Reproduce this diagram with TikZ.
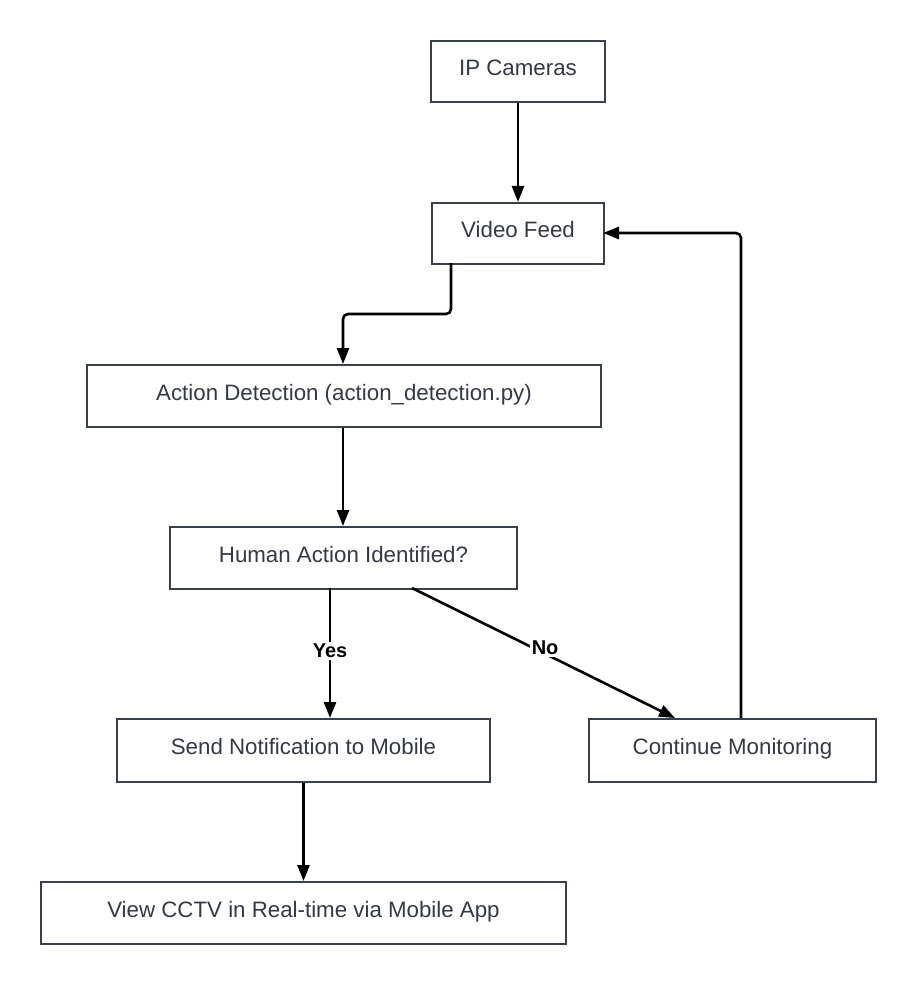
\documentclass[tikz,border=0pt]{standalone}
\usepackage{fontspec}
\setmainfont{Liberation Sans}
\usetikzlibrary{arrows.meta}
\definecolor{boxline}{HTML}{3A4049}
\definecolor{boxtext}{HTML}{333A45}
\tikzset{
  flowbox/.style={draw=boxline, line width=2pt, fill=white, text=boxtext,
    font=\fontsize{22.3}{24}\selectfont, inner sep=0pt, text height=16pt, text depth=8pt,
    anchor=north west},
  conn/.style={draw=black, line width=2.6pt, rounded corners=5pt,
    -{Triangle[length=16pt,width=12pt]}},
  choice/.style={font=\bfseries\fontsize{20}{22}\selectfont, fill=white, inner sep=2pt, text=black}
}
\begin{document}
\begin{tikzpicture}[x=1pt,y=-1pt]
\useasboundingbox[fill=white] (0,0) rectangle (914,984);
\node[flowbox, minimum width=174pt, minimum height=61pt] (ip) at (430,40) {IP Cameras};
\node[flowbox, minimum width=172pt, minimum height=61pt] (vf) at (431,202) {Video Feed};
\node[flowbox, minimum width=514pt, minimum height=62pt] (ad) at (86,364) {Action Detection (action\_detection.py)};
\node[flowbox, minimum width=347pt, minimum height=62pt] (ha) at (169,526) {Human Action Identified?};
\node[flowbox, minimum width=373pt, minimum height=63pt] (sn) at (116,718) {Send Notification to Mobile};
\node[flowbox, minimum width=287pt, minimum height=63pt] (cm) at (588,718) {Continue Monitoring};
\node[flowbox, minimum width=525pt, minimum height=62pt] (vc) at (40,881) {View CCTV in Real-time via Mobile App};

\coordinate (vfo) at (451,263);
\coordinate (adi) at (343,364);
\coordinate (hao) at (330,588);
\coordinate (sni) at (330,718);
\coordinate (hano) at (412,588);
\coordinate (cmi) at (675,718);
\coordinate (cmo) at (741,718);
\coordinate (vfi) at (603,233);

\draw[conn] (ip.south) -- (vf.north);
\draw[conn] (vfo) |- (397,314) -| (adi);
\draw[conn] (ad.south -| adi) -- (ha.north -| adi);
\draw[conn] (hao) -- node[choice, pos=0.485] {Yes} (sni);
\draw[conn] (hano) -- node[choice, pos=0.506, yshift=6pt] {No} (cmi);
\draw[conn] (cmo) |- (vfi);
\draw[conn] (sn.south) -- (vc.north);
\end{tikzpicture}
\end{document}
